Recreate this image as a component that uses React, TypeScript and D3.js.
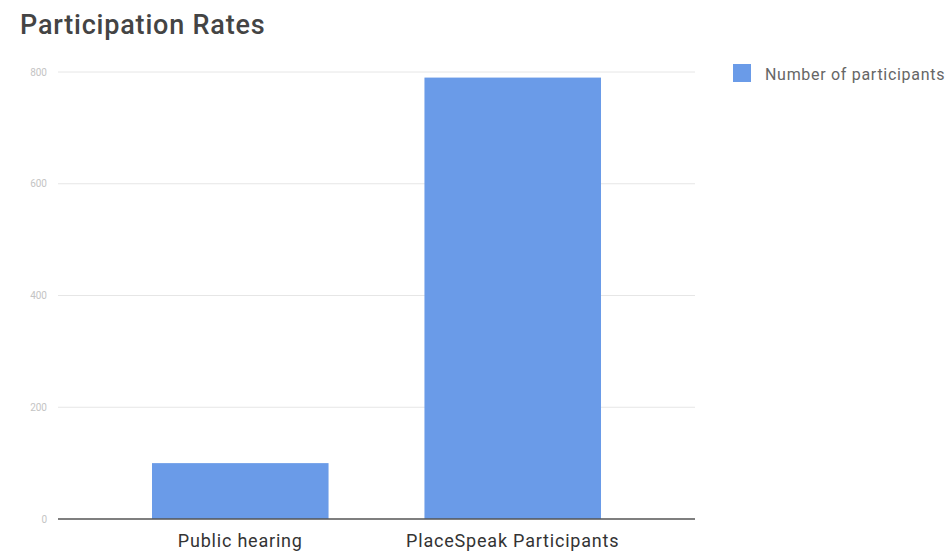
import * as d3 from "d3";

const categories = ["Public hearing", "PlaceSpeak Participants"];
const participants = [100, 790];
const yTicks = [0, 200, 400, 600, 800];
const seriesName = "Number of participants";

const W = 951;
const H = 553;
const left = 58;
const right = 695;
const top = 72;
const bottom = 519;

export default function App() {
  const x = d3
    .scaleBand<string>()
    .domain(categories)
    .range([left, right])
    .paddingInner(0.352)
    .paddingOuter(0.345);

  const y = d3.scaleLinear().domain([0, 800]).range([bottom, top]);

  const font = "Roboto, 'Noto Sans', sans-serif";

  return (
    <svg
      width={W}
      height={H}
      style={{ position: "absolute", left: 0, top: 0, background: "#fff" }}
      fontFamily={font}
    >
      <text x={20} y={34} fontSize={27} letterSpacing={0.8} fill="#444" fontWeight={500}>
        Participation Rates
      </text>

      {/* gridlines and tick labels */}
      {yTicks.map((t) => (
        <g key={t}>
          {t !== 0 && (
            <line x1={left} x2={right} y1={y(t)} y2={y(t)} stroke="#e6e6e6" strokeWidth={1} />
          )}
          <text
            x={left - 11}
            y={y(t)}
            dy="0.35em"
            textAnchor="end"
            fontSize={10}
            fill="#c4c4c4"
          >
            {t}
          </text>
        </g>
      ))}

      {/* bars */}
      {categories.map((c, i) => (
        <rect
          key={c}
          x={x(c)}
          y={y(participants[i])}
          width={x.bandwidth()}
          height={y(0) - y(participants[i])}
          fill="#6a9be8"
        />
      ))}

      {/* baseline */}
      <line x1={left} x2={right} y1={bottom} y2={bottom} stroke="#555" strokeWidth={1.5} />

      {/* category labels */}
      {categories.map((c) => (
        <text
          key={c}
          x={(x(c) ?? 0) + x.bandwidth() / 2}
          y={547}
          textAnchor="middle"
          fontSize={18}
          letterSpacing={0.8}
          fill="#333"
        >
          {c}
        </text>
      ))}

      {/* legend */}
      <rect x={733} y={64} width={18} height={18} fill="#6a9be8" />
      <text x={765} y={74} dy="0.35em" fontSize={16} letterSpacing={0.7} fill="#666">
        {seriesName}
      </text>
    </svg>
  );
}
